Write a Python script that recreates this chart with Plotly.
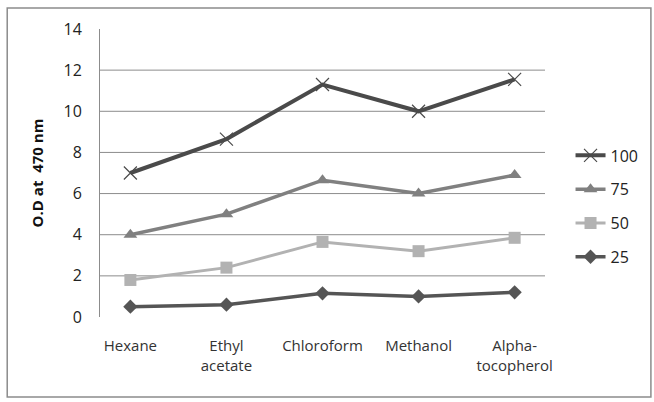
import plotly.graph_objects as go

solvents = ["Hexane", "Ethyl<br>acetate", "Chloroform", "Methanol", "Alpha-<br>tocopherol"]
od_100 = [7.0, 8.65, 11.3, 10.0, 11.55]
od_75 = [4.0, 5.0, 6.65, 6.0, 6.9]
od_50 = [1.8, 2.4, 3.65, 3.2, 3.85]
od_25 = [0.5, 0.6, 1.15, 1.0, 1.2]
y_ticks = [0, 2, 4, 6, 8, 10, 12, 14]

FONT = "Open Sans"

fig = go.Figure()

series = [
    ("100", od_100, "#4a4a4a", 4, dict(symbol="x-thin-open", size=13, line=dict(color="#9a9a9a", width=1.2))),
    ("75", od_75, "#808080", 3.5, dict(symbol="triangle-up", size=12, color="#808080")),
    ("50", od_50, "#b2b2b2", 3, dict(symbol="square", size=12, color="#b2b2b2")),
    ("25", od_25, "#555555", 3.5, dict(symbol="diamond", size=11, color="#555555")),
]
for name, vals, col, w, mk in series:
    fig.add_trace(go.Scatter(
        x=solvents, y=vals, name=name, legendgroup=name,
        mode="lines+markers",
        line=dict(color=col, width=w),
        marker=mk,
    ))

# horizontal gridlines (inner ticks only)
for v in y_ticks[1:-1]:
    fig.add_shape(type="line", xref="paper", yref="y", x0=0, x1=1, y0=v, y1=v,
                  line=dict(color="#8c8c8c", width=1), layer="below")

# chart border
fig.add_shape(type="rect", xref="paper", yref="paper",
              x0=-0.2085, x1=1.238, y0=-0.278, y1=1.073,
              line=dict(color="#8c8c8c", width=1.5))

fig.update_layout(
    width=654, height=402,
    margin=dict(l=100, r=108, t=29, b=85),
    paper_bgcolor="white", plot_bgcolor="white",
    font=dict(family=FONT, size=14, color="#222222"),
    showlegend=True,
    legend=dict(x=1.055, y=0.62, xanchor="left", yanchor="top",
                tracegroupgap=10, font=dict(size=16, family=FONT),
                bgcolor="rgba(0,0,0,0)"),
    xaxis=dict(showgrid=False, showline=False, zeroline=False, ticks="",
               ticklabelstandoff=18, tickfont=dict(size=15, color="#333333")),
    yaxis=dict(range=[0, 14], tickvals=y_ticks, showgrid=False, zeroline=False,
               showline=True, linecolor="#8c8c8c", linewidth=1, ticks="",
               ticklabelstandoff=14, tickfont=dict(size=16, color="#222222"),
               title=dict(text="<b>O.D at  470 nm</b>", standoff=16,
                          font=dict(size=15, color="#111111"))),
)

fig.write_html("out.html")
